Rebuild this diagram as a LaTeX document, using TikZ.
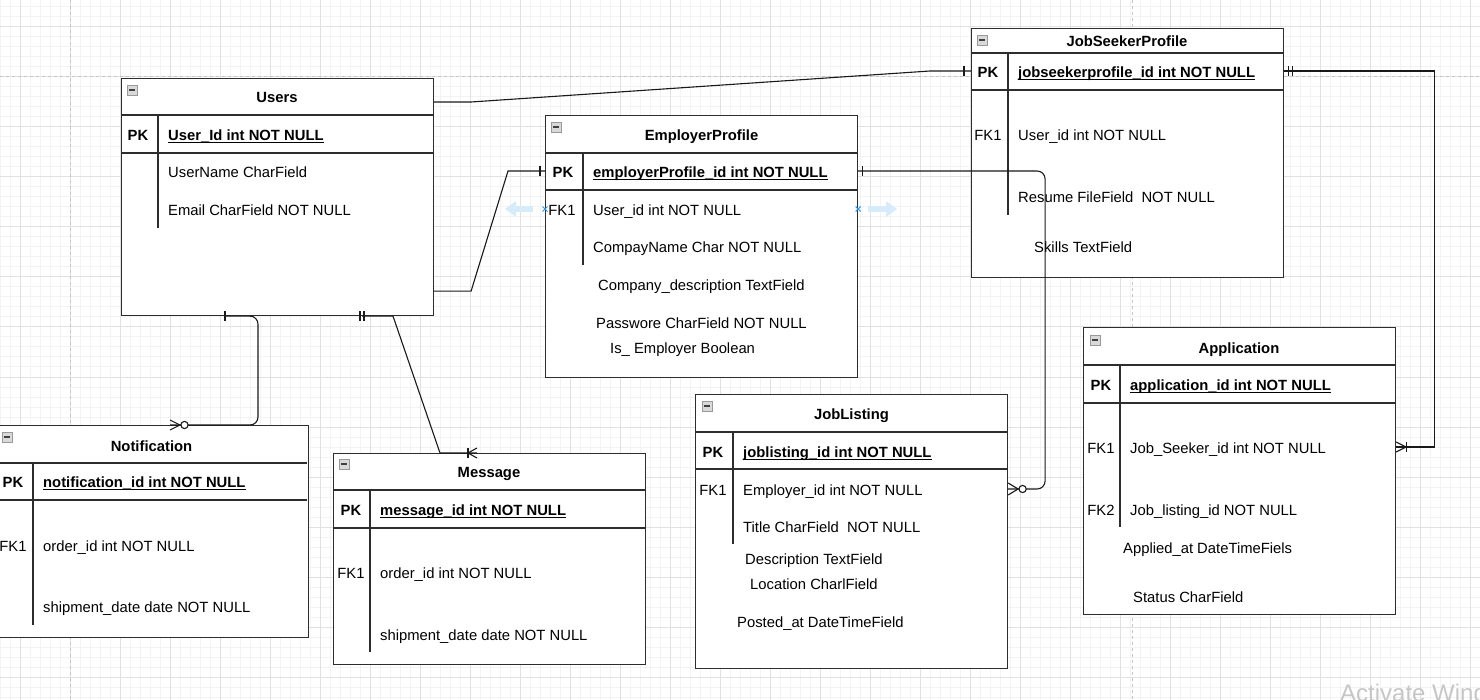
\documentclass[tikz,border=0pt]{standalone}
\usepackage{fontspec}
\setmainfont{Liberation Sans}
\usepackage{tikz}
\usetikzlibrary{arrows.meta, calc}
\definecolor{gridlight}{RGB}{243,243,243}
\definecolor{griddark}{RGB}{225,225,225}
\definecolor{pagegray}{RGB}{198,198,198}
\definecolor{edgegray}{RGB}{45,45,45}
\definecolor{hintblue}{RGB}{214,236,250}
\definecolor{markblue}{RGB}{45,150,230}

\newcommand{\erfont}{\fontsize{14.8}{17}\selectfont}

\tikzset{
  minorline/.style={draw=gridlight, line width=1pt},
  majorline/.style={draw=griddark, line width=1pt},
  pageline/.style={draw=pagegray, line width=1pt, dash pattern=on 3pt off 3pt},
  tbl/.style={draw=edgegray, fill=white, line width=1.1pt, anchor=north west, minimum width=312pt, inner sep=0pt},
  minbox/.style={draw=gray!80, fill=gray!30, minimum size=10.5pt, inner sep=0pt,
    path picture={\draw[black!75, line width=1.5pt] ([xshift=2pt]path picture bounding box.west) -- ([xshift=-2pt]path picture bounding box.east);}},
  ttl/.style={font=\erfont\bfseries, inner sep=0pt, text height=14pt, text depth=1.5pt},
  keyb/.style={font=\erfont\bfseries, inner sep=0pt, text height=14pt, text depth=1.5pt},
  keyr/.style={font=\erfont, inner sep=0pt, text height=14pt, text depth=1.5pt},
  fld/.style={font=\erfont, anchor=west, inner sep=0pt, text height=14pt, text depth=1.5pt},
  pkf/.style={fld, font=\erfont\bfseries,
    append after command={([yshift=-2pt]\tikzlastnode.base west) edge[draw=black, line width=1.1pt] ([yshift=-2pt]\tikzlastnode.base east)}},
  rule/.style={draw=edgegray, line width=1.1pt},
  rel/.style={draw=black!90, line width=1.1pt},
  hint/.style={draw=hintblue, line width=5.5pt, -{Triangle[length=11pt, width=15pt]}},
  xmark/.style={draw=markblue, line width=1pt}
}

\begin{document}
\begin{tikzpicture}[x=1pt, y=-1pt]
  \useasboundingbox (0,0) rectangle (1480,700);
  \fill[white] (0,0) rectangle (1480,700);

  % canvas grid
  \foreach \gx in {0,10,...,1480} \draw[minorline] (\gx,0) -- (\gx,700);
  \foreach \gy in {7,17,...,697} \draw[minorline] (0,\gy) -- (1480,\gy);
  \foreach \gx in {20,70,...,1470} \draw[majorline] (\gx,0) -- (\gx,700);
  \foreach \gy in {27,77,...,677} \draw[majorline] (0,\gy) -- (1480,\gy);
  \draw[pageline] (70,0) -- (70,700) (1132,0) -- (1132,700) (0,77) -- (1480,77);

  % Users
  \node[tbl, minimum height=237pt] (users) at (121,78) {};
  \node[minbox] (usersBtn) at (132,90) {};
  \node[ttl] (usersT) at (277,96) {Users};
  \draw[rule] (121,115) -- (433,115) (121,153) -- (433,153) (158,115) -- (158,228);
  \node[keyb] (usersPK) at (138,134) {PK};
  \node[pkf] (usersId) at (168,134) {User\_Id int NOT NULL};
  \node[fld] (usersName) at (168,171) {UserName CharField};
  \node[fld] (usersMail) at (168,209) {Email CharField NOT NULL};

  % EmployerProfile
  \node[tbl, minimum height=262pt] (emp) at (545,115) {};
  \node[minbox] (empBtn) at (556,127) {};
  \node[ttl] (empT) at (701.5,134) {EmployerProfile};
  \draw[rule] (545,153) -- (858,153) (545,190) -- (858,190) (583,153) -- (583,265);
  \node[keyb] (empPK) at (563,171) {PK};
  \node[pkf] (empId) at (593,171) {employerProfile\_id int NOT NULL};
  \node[keyr] (empFK) at (562,209) {FK1};
  \node[fld] (empUser) at (593,209) {User\_id int NOT NULL};
  \node[fld] (empName) at (593,246) {CompayName Char NOT NULL};
  \node[fld] (empDesc) at (598,284) {Company\_description TextField};
  \node[fld] (empPass) at (596,322) {Passwore CharField NOT NULL};
  \node[fld] (empFlag) at (610,347) {Is\_ Employer Boolean};

  % JobSeekerProfile
  \node[tbl, minimum height=249pt] (jsp) at (971,28) {};
  \node[minbox] (jspBtn) at (982,40) {};
  \node[ttl] (jspT) at (1127,40) {JobSeekerProfile};
  \draw[rule] (971,53) -- (1283,53) (971,90) -- (1283,90) (1008,53) -- (1008,215);
  \node[keyb] (jspPK) at (988,71) {PK};
  \node[pkf] (jspId) at (1018,71) {jobseekerprofile\_id int NOT NULL};
  \node[keyr] (jspFK) at (988,134) {FK1};
  \node[fld] (jspUser) at (1018,134) {User\_id int NOT NULL};
  \node[fld] (jspCv) at (1018,196) {Resume FileField\ \ NOT NULL};
  \node[fld] (jspSkill) at (1034,246) {Skills TextField};

  % Notification
  \node[tbl, minimum height=212pt] (notif) at (-4,425) {};
  \node[minbox] (notifBtn) at (7,437) {};
  \node[ttl] (notifT) at (151.5,445) {Notification};
  \draw[rule] (-4,463) -- (307,463) (-4,500) -- (307,500) (33,463) -- (33,625);
  \node[keyb] (notifPK) at (13,481) {PK};
  \node[pkf] (notifId) at (43,481) {notification\_id int NOT NULL};
  \node[keyr] (notifFK) at (13,545) {FK1};
  \node[fld] (notifOrder) at (43,545) {order\_id int NOT NULL};
  \node[fld] (notifDate) at (43,606) {shipment\_date date NOT NULL};

  % Message
  \node[tbl, minimum height=211pt] (msg) at (333,453) {};
  \node[minbox] (msgBtn) at (344,464) {};
  \node[ttl] (msgT) at (489,471) {Message};
  \draw[rule] (333,490) -- (645,490) (333,528) -- (645,528) (370,490) -- (370,652);
  \node[keyb] (msgPK) at (351,509) {PK};
  \node[pkf] (msgId) at (380,509) {message\_id int NOT NULL};
  \node[keyr] (msgFK) at (351,572) {FK1};
  \node[fld] (msgOrder) at (380,572) {order\_id int NOT NULL};
  \node[fld] (msgDate) at (380,634) {shipment\_date date NOT NULL};

  % JobListing
  \node[tbl, minimum height=274pt] (job) at (695,394) {};
  \node[minbox] (jobBtn) at (707,406) {};
  \node[ttl] (jobT) at (851.5,413) {JobListing};
  \draw[rule] (695,432) -- (1008,432) (695,469) -- (1008,469) (733,432) -- (733,544);
  \node[keyb] (jobPK) at (713,451) {PK};
  \node[pkf] (jobId) at (743,451) {joblisting\_id int NOT NULL};
  \node[keyr] (jobFK) at (713,489) {FK1};
  \node[fld] (jobEmp) at (743,489) {Employer\_id int NOT NULL};
  \node[fld] (jobTitle) at (743,526) {Title CharField\ \ NOT NULL};
  \node[fld] (jobDesc) at (745,558) {Description TextField};
  \node[fld] (jobLoc) at (750,583) {Location CharlField};
  \node[fld] (jobDate) at (737,621) {Posted\_at DateTimeField};

  % Application
  \node[tbl, minimum height=287pt] (app) at (1083,327) {};
  \node[minbox] (appBtn) at (1095,340) {};
  \node[ttl] (appT) at (1239,347) {Application};
  \draw[rule] (1083,365) -- (1395,365) (1083,403) -- (1395,403) (1120,365) -- (1120,527);
  \node[keyb] (appPK) at (1101,384) {PK};
  \node[pkf] (appId) at (1130,384) {application\_id int NOT NULL};
  \node[keyr] (appFK1) at (1101,447) {FK1};
  \node[fld] (appSeeker) at (1130,447) {Job\_Seeker\_id int NOT NULL};
  \node[keyr] (appFK2) at (1101,509) {FK2};
  \node[fld] (appList) at (1130,509) {Job\_listing\_id NOT NULL};
  \node[fld] (appAt) at (1123,547) {Applied\_at DateTimeFiels};
  \node[fld] (appStatus) at (1133,596) {Status CharField};

  % relations
  \coordinate (jspIn) at (jspPK -| jsp.west);
  \coordinate (jspOut) at (jspPK -| jsp.east);
  \coordinate (empIn) at (empPK -| emp.west);
  \coordinate (empOut) at (empPK -| emp.east);
  \coordinate (jobIn) at (jobFK -| job.east);
  \coordinate (appIn) at (appFK1 -| app.east);

  % Users - JobSeekerProfile
  \draw[rel] ([yshift=-24pt]users.north east) -- ++(37,0) -- ($(jspIn)+(-41,0)$) -- (jspIn);
  \draw[rel] ($(jspIn)+(-7,-5)$) -- ++(0,10);

  % Users - EmployerProfile
  \draw[rel] ([yshift=25pt]users.south east) -- ++(37,0) -- ($(empIn)+(-37,0)$) -- (empIn);
  \draw[rel] ($(empIn)+(-5,-5)$) -- ++(0,10);

  % EmployerProfile - JobListing
  \draw[rel, rounded corners=8pt] (empOut) -- ($(empOut)+(187,0)$) -- ($(jobIn)+(37,0)$) -- (jobIn);
  \draw[rel] ($(empOut)+(4,-5)$) -- ++(0,10);
  \draw[rel] ($(jobIn)+(0,-6)$) -- ($(jobIn)+(10,0)$) -- ($(jobIn)+(0,6)$);
  \draw[rel, fill=white] ($(jobIn)+(14.5,0)$) circle (3.6pt);

  % Users - Notification
  \draw[rel, rounded corners=8pt] ($(users.south west)+(104,0)$) -- ($(users.south west)+(137,0)$) -- ($(notif.north west)+(262,0)$) -- ($(notif.north west)+(174,0)$);
  \draw[rel] ($(users.south west)+(104,-5)$) -- ++(0,10);
  \draw[rel] ($(notif.north west)+(174,-5)$) -- ($(notif.north west)+(184,0)$) -- ($(notif.north west)+(174,5)$);
  \draw[rel, fill=white] ($(notif.north west)+(188.5,0)$) circle (3.6pt);

  % Users - Message
  \draw[rel] ($(users.south west)+(241,0)$) -- ($(users.south west)+(272,0)$) -- ($(msg.north west)+(107,0)$) -- ($(msg.north west)+(144,0)$);
  \draw[rel] ($(users.south west)+(239,-5)$) -- ++(0,10) ($(users.south west)+(243,-5)$) -- ++(0,10);
  \draw[rel] ($(msg.north west)+(144,-5)$) -- ($(msg.north west)+(135,0)$) -- ($(msg.north west)+(144,5)$);
  \draw[rel] ($(msg.north west)+(135,-5)$) -- ++(0,10);

  % JobSeekerProfile - Application
  \draw[rel] (jspOut) -- ($(jspOut)+(150,0)$) -- ($(appIn)+(38,0)$) -- (appIn);
  \draw[rel] ($(jspOut)+(4,-5)$) -- ++(0,10) ($(jspOut)+(8,-5)$) -- ++(0,10);
  \draw[rel] ($(appIn)+(0,-5)$) -- ($(appIn)+(10,0)$) -- ($(appIn)+(0,5)$);
  \draw[rel] ($(appIn)+(10,-5)$) -- ++(0,10);

  % hover hints on EmployerProfile
  \coordinate (empHintL) at (empFK -| emp.west);
  \coordinate (empHintR) at (empFK -| emp.east);
  \draw[hint] ($(empHintL)+(-12,0)$) -- ++(-28,0);
  \draw[hint] ($(empHintR)+(10,0)$) -- ++(29,0);
  \draw[xmark] ($(empHintL)+(-2.5,-2.5)$) -- ++(5,5) ++(0,-5) -- ++(-5,5);
  \draw[xmark] ($(empHintR)+(-2.5,-2.5)$) -- ++(5,5) ++(0,-5) -- ++(-5,5);

  \node[font=\fontsize{24}{28}\selectfont, text=gray!45, anchor=base west, inner sep=0pt] (wmark) at (1340,701) {Activate Windows};
\end{tikzpicture}
\end{document}
